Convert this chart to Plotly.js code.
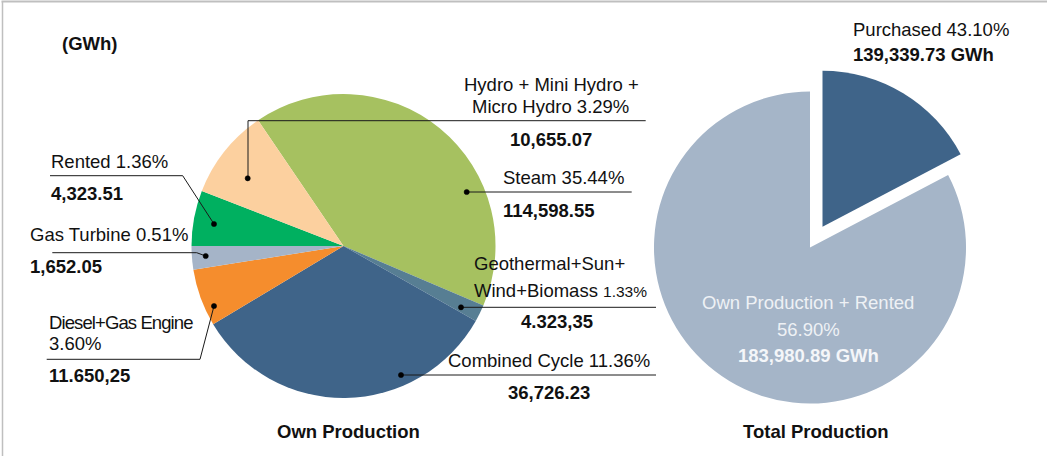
<!DOCTYPE html>
<html>
<head>
<meta charset="utf-8">
<script src="https://cdn.plot.ly/plotly-3.0.1.min.js"></script>
<style>html,body{margin:0;padding:0;background:#fff;}#chart{width:1048px;height:456px;}</style>
</head>
<body>
<div id="chart"></div>
<script>
// ---- data ----
// Own production categories (clockwise order as drawn, starting at the Hydro/Steam border)
const ownCategories = ['Steam', 'Geothermal+Sun+Wind+Biomass', 'Combined Cycle', 'Diesel+Gas Engine', 'Gas Turbine', 'Rented', 'Hydro + Mini Hydro + Micro Hydro'];
// slice shares as drawn in the picture (percent of the pie)
const ownSliceShare = [40.9, 1.8, 33.2, 6.1, 2.5, 5.9, 9.6];
// labelled percentages and energies (as printed)
const ownPctText = ['35.44%', '1.33%', '11.36%', '3.60%', '0.51%', '1.36%', '3.29%'];
const ownGWhText = ['114,598.55', '4.323,35', '36,726.23', '11.650,25', '1,652.05', '4,323.51', '10,655.07'];
const ownColors = ['#A6C160', '#577E93', '#3F6489', '#F58D2D', '#A5B4C8', '#00B060', '#FCD09F'];

const totalCategories = ['Purchased', 'Own Production + Rented'];
const totalSliceShare = [17.3, 82.7];
const totalPctText = ['43.10%', '56.90%'];
const totalGWhText = ['139,339.73 GWh', '183,980.89 GWh'];
const totalColors = ['#3F6489', '#A5B5C8'];

const unitText = '(GWh)';
const chartTitles = ['Own Production', 'Total Production'];

// ---- layout helpers (pixel -> paper) ----
const W = 1048, H = 456;
const px = x => x / W;
const py = y => 1 - y / H;
const FONT = 'Liberation Sans, Arial, sans-serif';
const FS = 18.5;

const traces = [
  {
    type: 'pie', values: ownSliceShare, labels: ownCategories,
    marker: {colors: ownColors, line: {width: 0}},
    sort: false, direction: 'clockwise', rotation: -34.2,
    textinfo: 'none', hoverinfo: 'label',
    domain: {x: [px(343.5 - 152), px(343.5 + 152)], y: [py(246 + 152), py(246 - 152)]},
    showlegend: false
  },
  {
    type: 'pie', values: totalSliceShare, labels: totalCategories,
    marker: {colors: totalColors, line: {width: 0}},
    sort: false, direction: 'clockwise', rotation: 0,
    pull: [0.155, 0],
    textinfo: 'none', hoverinfo: 'label',
    domain: {x: [px(810 - 180.2), px(810 + 180.2)], y: [py(247.5 + 180.2), py(247.5 - 180.2)]},
    showlegend: false
  }
];

function ann(text, x, y, anchor, bold, opts) {
  opts = opts || {};
  return {
    text: bold ? '<b>' + text + '</b>' : text,
    xref: 'paper', yref: 'paper', x: px(x), y: py(y),
    xanchor: anchor, yanchor: 'middle', showarrow: false, borderpad: 0,
    font: {family: FONT, size: opts.size || FS, color: opts.color || '#111'}
  };
}
const small = t => '<span style="font-size:15.5px">' + t + '</span>';
const tight = t => '<span style="letter-spacing:-0.9px">' + t + '</span>';

const annotations = [
  ann(unitText, 61, 44, 'left', true),
  // Hydro
  ann('Hydro + Mini Hydro +', 551, 85, 'center', false),
  ann('Micro Hydro ' + ownPctText[6], 550.5, 106.7, 'center', false),
  ann(ownGWhText[6], 551, 139, 'center', true),
  // Steam
  ann(ownCategories[0] + ' ' + ownPctText[0], 501.5, 177.3, 'left', false),
  ann(ownGWhText[0], 501.5, 210, 'left', true),
  // Geothermal
  ann('Geothermal+Sun+', 473, 263.3, 'left', false),
  ann('Wind+Biomass ' + small(ownPctText[1]), 473, 290, 'left', false),
  ann(ownGWhText[1], 557, 321.7, 'center', true),
  // Combined
  ann(ownCategories[2] + ' ' + ownPctText[2], 446.5, 360.7, 'left', false),
  ann(ownGWhText[2], 549, 392.7, 'center', true),
  // Rented
  ann(ownCategories[5] + ' ' + ownPctText[5], 49.5, 161.7, 'left', false),
  ann(ownGWhText[5], 49.5, 193.3, 'left', true),
  // Gas turbine
  ann(ownCategories[4] + ' ' + ownPctText[4], 29, 234.3, 'left', false),
  ann(ownGWhText[4], 29, 266, 'left', true),
  // Diesel
  ann(tight(ownCategories[3]), 48, 322.3, 'left', false),
  ann(ownPctText[3], 48, 343.3, 'left', false),
  ann(ownGWhText[3], 48, 375, 'left', true),
  // Titles
  ann(chartTitles[0], 348, 431.7, 'center', true),
  ann(chartTitles[1], 816, 431.7, 'center', true),
  // Total pie
  ann(totalCategories[0] + ' ' + totalPctText[0], 851.5, 30, 'left', false),
  ann(totalGWhText[0], 851.5, 55, 'left', true),
  ann(totalCategories[1], 808, 302.3, 'center', false, {color: '#EEF1F5'}),
  ann(totalPctText[1], 808, 329.3, 'center', false, {color: '#EEF1F5'}),
  ann(totalGWhText[1], 808, 355.7, 'center', true, {color: '#F4F6F9'})
];

function path(pts) {
  return {
    type: 'path', xref: 'paper', yref: 'paper',
    path: pts.map((p, i) => (i ? 'L' : 'M') + px(p[0]) + ',' + py(p[1])).join(' '),
    line: {color: '#1a1a1a', width: 1}
  };
}
function dot(x, y) {
  const rx = 2.6 / W, ry = 2.6 / H;
  return {
    type: 'circle', xref: 'paper', yref: 'paper',
    x0: px(x) - rx, x1: px(x) + rx, y0: py(y) - ry, y1: py(y) + ry,
    fillcolor: '#000', line: {color: '#000', width: 0.5}
  };
}

const shapes = [
  // frame
  {type: 'line', xref: 'paper', yref: 'paper', x0: px(1.5), x1: px(1047), y0: py(1.5), y1: py(1.5), line: {color: '#BFBFBF', width: 2}},
  {type: 'line', xref: 'paper', yref: 'paper', x0: px(2.5), x1: px(2.5), y0: py(1.5), y1: py(456), line: {color: '#BFBFBF', width: 1.5}},
  // leader lines
  path([[248, 178.3], [248, 120.7], [645.7, 120.7]]),
  path([[466.7, 192], [631.7, 192]]),
  path([[461, 307.3], [656, 307.3]]),
  path([[401, 375], [656, 375]]),
  path([[50, 175.7], [182.7, 175.7], [214, 224]]),
  path([[52.3, 252.7], [196.7, 252.7], [205.7, 256]]),
  path([[46.7, 359.3], [200, 359.3], [214, 306]]),
  dot(247.7, 178.3), dot(466.7, 192), dot(461, 307.3), dot(401, 375),
  dot(214, 224), dot(205.7, 256), dot(214, 306)
];

const layout = {
  width: W, height: H, autosize: false,
  margin: {l: 0, r: 0, t: 0, b: 0, pad: 0},
  paper_bgcolor: '#fff', plot_bgcolor: '#fff',
  font: {family: FONT, size: FS, color: '#111'},
  showlegend: false,
  annotations: annotations,
  shapes: shapes
};

Plotly.newPlot('chart', traces, layout, {displayModeBar: false, staticPlot: true});
</script>
</body>
</html>
